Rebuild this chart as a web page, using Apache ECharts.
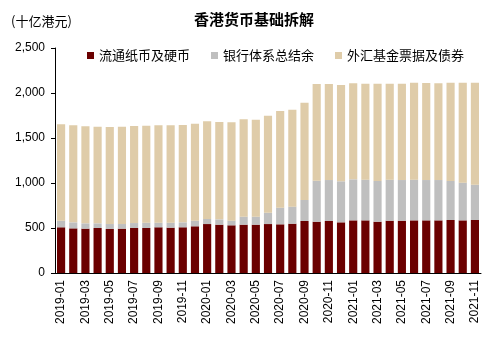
<!DOCTYPE html>
<html><head><meta charset="utf-8">
<script src="https://cdn.jsdelivr.net/npm/echarts@6/dist/echarts.min.js"></script>
<style>html,body{margin:0;padding:0;background:#fff}#c{width:494px;height:343px}</style>
</head><body><div id="c"></div>
<script>
const categories = ["2019-01","2019-02","2019-03","2019-04","2019-05","2019-06","2019-07","2019-08","2019-09","2019-10","2019-11","2019-12",
"2020-01","2020-02","2020-03","2020-04","2020-05","2020-06","2020-07","2020-08","2020-09","2020-10","2020-11","2020-12",
"2021-01","2021-02","2021-03","2021-04","2021-05","2021-06","2021-07","2021-08","2021-09","2021-10","2021-11"];
const currency = [508,496,493,500,489,493,500,500,508,504,508,519,544,537,530,537,537,544,541,548,578,570,578,563,585,585,570,581,581,585,585,585,589,585,589];
const balance = [73,67,59,52,55,51,55,59,51,55,55,62,56,59,51,89,89,126,185,189,233,456,455,456,456,452,452,456,452,452,448,448,433,419,392];
const efbn = [1071,1078,1078,1074,1078,1082,1078,1078,1082,1082,1081,1078,1085,1082,1093,1081,1078,1078,1074,1078,1082,1074,1067,1070,1066,1067,1082,1067,1071,1078,1078,1074,1093,1111,1134];
const names = ["流通纸币及硬币","银行体系总结余","外汇基金票据及债券"];
const title = "香港货币基础拆解";
const unit = "(十亿港元)";

const chart = echarts.init(document.getElementById('c'));
const cjk = '"Noto Sans CJK SC", sans-serif';
const lat = '"Liberation Sans", Arial, sans-serif';
const colors = ['#6B0000','#BFBFBF','#DFCCA9'];
chart.setOption({
  animation:false,
  title:[
    {text:title,left:249,top:7,textAlign:'center',textStyle:{fontFamily:cjk,fontSize:15,fontWeight:'bold',color:'#000'}},
    {text:unit,left:6,top:10,textStyle:{fontFamily:cjk,fontSize:13,fontWeight:'normal',color:'#000'}}
  ],
  legend:{top:44,left:82,itemWidth:7,itemHeight:7,itemGap:21,icon:'rect',
    textStyle:{fontFamily:cjk,fontSize:13,color:'#000'},data:names},
  grid:{left:55,right:13,top:48,bottom:70},
  xAxis:{type:'category',data:categories,boundaryGap:true,
    axisLine:{lineStyle:{color:'#000'}},
    axisTick:{interval:1,length:4,lineStyle:{color:'#000'}},
    axisLabel:{interval:1,rotate:90,fontFamily:lat,fontSize:12,color:'#000',margin:7}},
  yAxis:{type:'value',min:0,max:2500,interval:500,
    axisLine:{show:true,lineStyle:{color:'#000'}},
    axisTick:{show:true,length:4,lineStyle:{color:'#000'}},
    splitLine:{show:false},
    axisLabel:{fontFamily:lat,fontSize:12,color:'#000',margin:10,
      formatter:v=>v.toString().replace(/\B(?=(\d{3})+(?!\d))/g,',')}},
  series:[
    {name:names[0],type:'bar',stack:'a',data:currency,barCategoryGap:'33%',itemStyle:{color:colors[0]}},
    {name:names[1],type:'bar',stack:'a',data:balance,itemStyle:{color:colors[1]}},
    {name:names[2],type:'bar',stack:'a',data:efbn,itemStyle:{color:colors[2]}}
  ]
});
</script></body></html>
